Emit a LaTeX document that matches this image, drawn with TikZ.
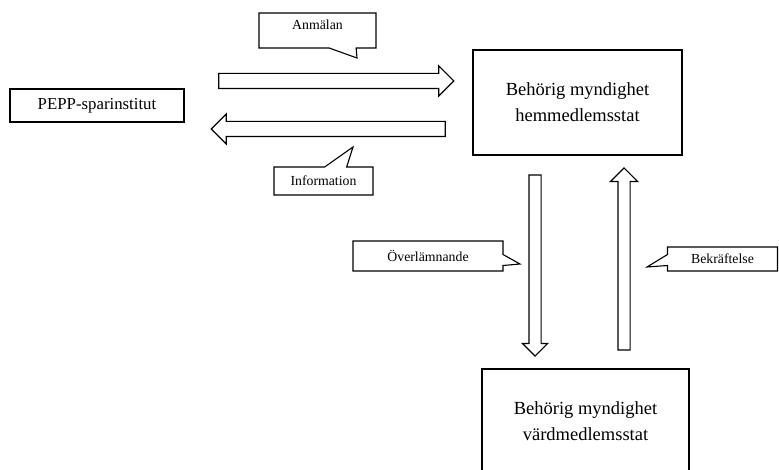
\documentclass[tikz,border=0pt]{standalone}
\usepackage{fontspec}
\setmainfont{Liberation Serif}
\usetikzlibrary{shapes.arrows, shapes.callouts}
\tikzset{
    box/.style = {draw, line width=1.2pt, align=center, font=\fontsize{18.5}{26}\selectfont},
    tag/.style = {rectangle callout, draw, line width=1.1pt, inner sep=0pt, font=\fontsize{13.8}{16}\selectfont},
    fatarrow/.style = {single arrow, draw, line width=1.1pt, inner xsep=0pt, inner ysep=7pt, single arrow head extend=7.5pt}
}

\begin{document}
\begin{tikzpicture}[x=1pt, y=-1pt]
    \useasboundingbox (0,0) rectangle (779,470);
    \node[box, minimum width=174pt, minimum height=33pt, font=\fontsize{16.8}{20}\selectfont] (pepp) at (97,105.5) {PEPP-sparinstitut};
    \node[box, minimum width=209pt, minimum height=105pt] (home) at (577.5,102.5) {Behörig myndighet\\hemmedlemsstat};
    \node[box, minimum width=207pt, minimum height=104pt] (host) at (585.5,421) {Behörig myndighet\\värdmedlemsstat};

    \node[fatarrow, minimum height=235pt] (anmarrow) at (332.5,81) {};
    \node[fatarrow, minimum height=234pt, rotate=180] (infoarrow) at (332,129) {};
    \node[fatarrow, minimum height=181pt, rotate=-90, inner ysep=5.5pt, single arrow head extend=6.5pt] (overarrow) at (535,262.5) {};
    \node[fatarrow, minimum height=182pt, rotate=90, inner ysep=5.5pt, single arrow head extend=7.5pt] (bekrarrow) at (624,262) {};

    \node[tag, minimum width=117pt, minimum height=35pt, text height=10pt, text depth=12pt, callout pointer width=27pt, callout absolute pointer={(357,58)}] (anm) at (317.5,30.5) {Anmälan};
    \node[tag, minimum width=99pt, minimum height=28pt, callout pointer width=22pt, callout absolute pointer={(353,147)}] (info) at (323.5,181) {Information};
    \node[tag, minimum width=150pt, minimum height=30pt, callout pointer width=11pt, callout absolute pointer={(520,264)}] (over) at (428,256) {Överlämnande};
    \node[tag, minimum width=110pt, minimum height=24pt, callout pointer width=11pt, callout absolute pointer={(647,267)}] (bekr) at (722.5,259) {Bekräftelse};
\end{tikzpicture}
\end{document}
